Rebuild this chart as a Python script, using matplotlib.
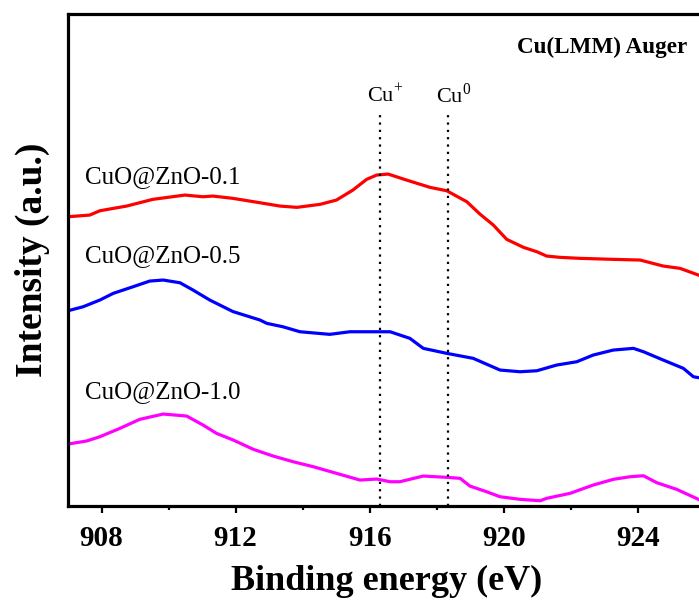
import numpy as np
import matplotlib
matplotlib.use('Agg')
import matplotlib.pyplot as plt

plt.rcParams['font.family'] = ['Liberation Serif', 'DejaVu Serif']
plt.rcParams['mathtext.fontset'] = 'custom'
plt.rcParams['mathtext.rm'] = 'Liberation Serif'

# Cu(LMM) Auger spectra (stacked, arbitrary units)
be_01 = [907.0, 907.65, 907.95, 908.75, 909.53, 910.49, 911.02, 911.32, 911.92,
         912.73, 913.32, 913.83, 914.52, 915.01, 915.50, 915.91, 916.21, 916.55,
         917.10, 917.80, 918.30, 918.90, 919.29, 919.69, 920.09, 920.59, 920.99,
         921.28, 921.68, 922.28, 923.27, 924.07, 924.76, 925.26, 925.81]
int_01 = [289.3, 291.0, 295.3, 300.0, 306.7, 311.0, 309.3, 310.0, 307.7,
          303.3, 300.0, 298.7, 301.7, 306.0, 316.0, 326.7, 331.0, 332.0,
          326.0, 318.7, 315.3, 304.3, 292.0, 281.0, 266.7, 258.7, 254.3,
          250.0, 248.7, 247.7, 246.7, 246.0, 240.0, 237.7, 231.0]

be_05 = [907.0, 907.45, 907.95, 908.35, 908.94, 909.44, 909.84, 910.34, 910.73,
         911.23, 911.92, 912.73, 912.93, 913.41, 913.92, 914.81, 915.41, 916.31,
         916.61, 917.20, 917.60, 918.30, 919.09, 919.89, 920.49, 920.99, 921.58,
         922.18, 922.67, 923.27, 923.87, 924.17, 924.76, 925.36, 925.66, 925.83]
int_05 = [195.3, 199.3, 206.0, 212.7, 219.3, 225.0, 226.0, 223.3, 216.0,
          206.0, 194.5, 186.0, 182.7, 179.3, 174.3, 171.7, 174.3, 174.3,
          174.3, 167.7, 157.7, 152.7, 147.7, 136.0, 134.3, 135.3, 141.0,
          144.3, 151.0, 156.0, 157.7, 154.3, 146.0, 137.7, 129.3, 128.3]

be_10 = [907.0, 907.55, 907.95, 908.55, 909.14, 909.84, 910.54, 911.03, 911.43,
         911.93, 912.53, 913.12, 913.72, 914.32, 915.01, 915.71, 916.21, 916.61,
         916.90, 917.60, 918.30, 918.70, 918.99, 919.49, 919.89, 920.49, 921.09,
         921.28, 921.98, 922.67, 923.27, 923.77, 924.17, 924.57, 925.16, 925.81]
int_10 = [62.0, 65.0, 69.3, 77.7, 86.7, 92.0, 90.0, 81.0, 72.7,
          66.0, 56.7, 50.0, 44.3, 39.3, 32.7, 26.0, 27.0, 24.3,
          24.3, 30.0, 28.7, 27.7, 20.0, 14.3, 9.3, 6.7, 5.3,
          7.7, 12.7, 21.0, 26.7, 29.3, 30.3, 23.3, 16.7, 6.7]

labels = ['CuO@ZnO-0.1', 'CuO@ZnO-0.5', 'CuO@ZnO-1.0']
label_y = [329, 250, 114]
ref_lines = [916.3, 918.35]
ref_names = [r'Cu$^{+}$', r'Cu$^{0}$']

fig = plt.figure(figsize=(6.99, 6.01), dpi=100)
ax = fig.add_axes([0.0973, 0.158, 0.911, 0.8186])

ax.plot(be_01, int_01, color='#ff0000', lw=2.3)
ax.plot(be_05, int_05, color='#0000ff', lw=2.3)
ax.plot(be_10, int_10, color='#ff00ff', lw=2.3)

for xv, name in zip(ref_lines, ref_names):
    ax.plot([xv, xv], [0, 395], color='black', lw=1.6, linestyle=(0, (1, 2.3)))
    ax.text(xv + 0.15, 411, name, ha='center', va='center', fontsize=16)

for lab, yv in zip(labels, label_y):
    ax.text(907.5, yv, lab, ha='left', va='center', fontsize=18)

ax.text(925.47, 459, 'Cu(LMM) Auger', ha='right', va='center',
        fontsize=16.7, fontweight='bold')

ax.set_xlim(907, 926)
ax.set_ylim(0, 492)
ax.set_xticks(np.arange(908, 926, 4))
ax.set_xticks(np.arange(910, 926, 4), minor=True)
ax.set_yticks([])
ax.tick_params(axis='x', which='major', direction='out', length=5, width=1.6,
               pad=9, labelsize=21)
ax.tick_params(axis='x', which='minor', direction='out', length=3, width=1.6)
for lbl in ax.get_xticklabels():
    lbl.set_fontweight('bold')
for sp in ax.spines.values():
    sp.set_linewidth(2.3)

ax.set_xlabel('Binding energy (eV)', fontsize=26, fontweight='bold', labelpad=9)
ax.set_ylabel('Intensity (a.u.)', fontsize=27, fontweight='bold', labelpad=13)

plt.savefig('out.png', dpi=100)
plt.close()
